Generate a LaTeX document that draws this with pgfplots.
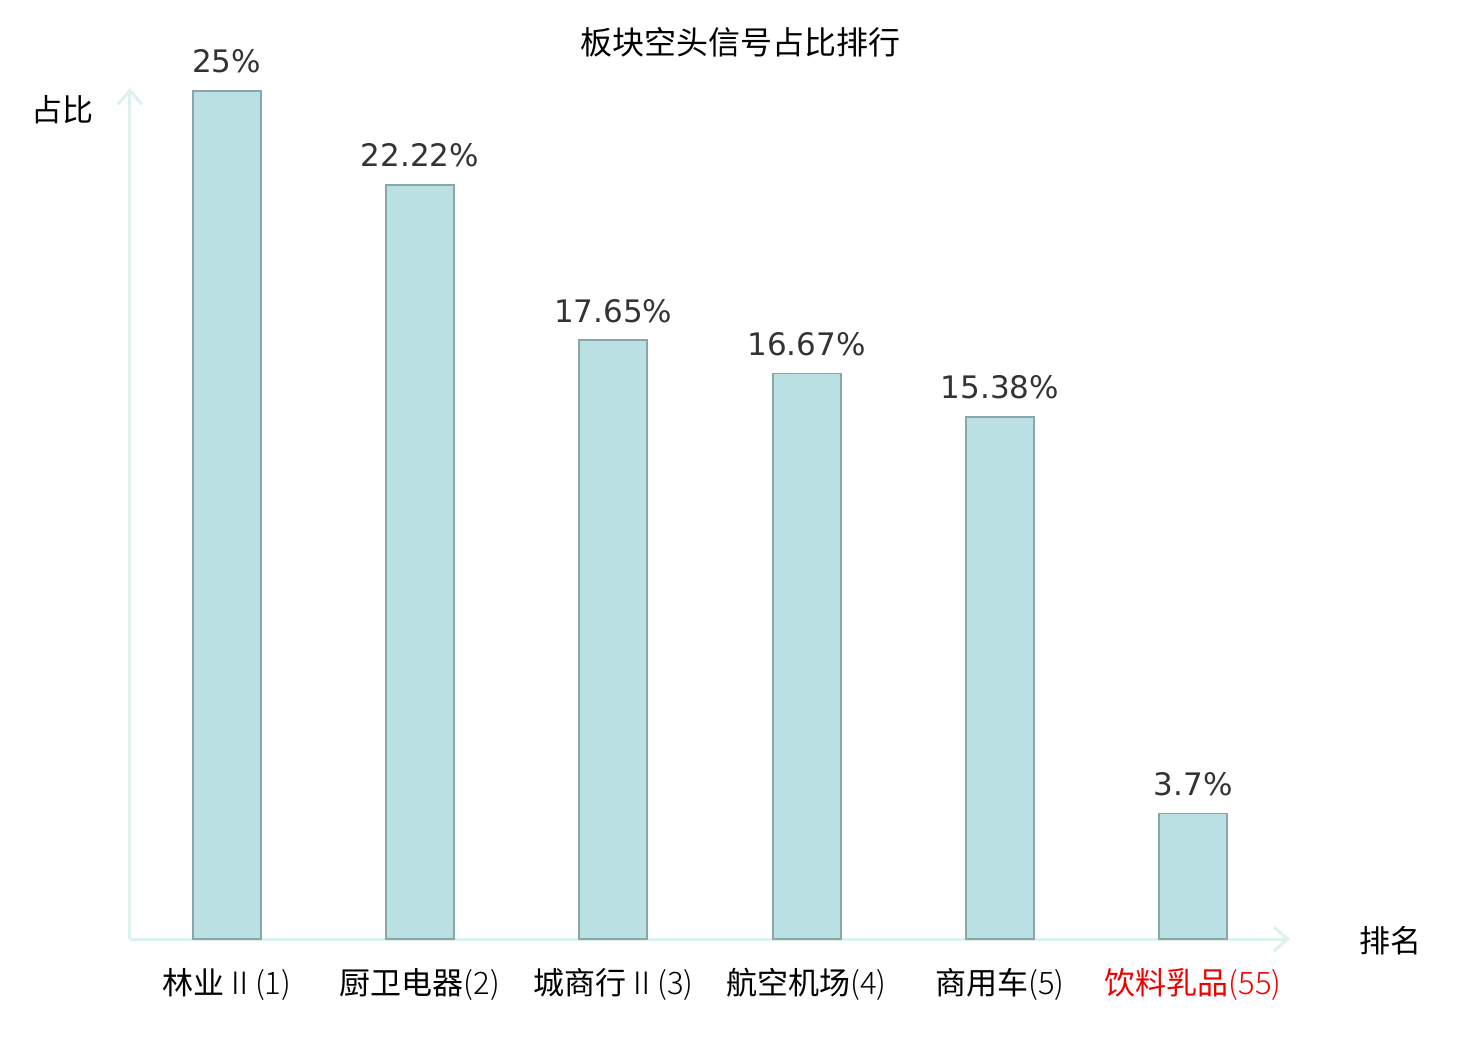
\documentclass[border=0pt]{standalone}
\usepackage{fontspec}
\setmainfont{DejaVu Sans}
\newfontfamily\cjk{Noto Sans CJK SC}
\newfontfamily\cjklight{Noto Sans CJK SC Light}
\usepackage{pgfplots}
\pgfplotsset{compat=1.18}
\usetikzlibrary{arrows.meta}
\definecolor{barfill}{HTML}{BBE0E3}
\definecolor{baredge}{HTML}{8AA6A6}
\definecolor{axcol}{HTML}{DDF1EF}
\definecolor{valtxt}{HTML}{333333}
\definecolor{lblred}{HTML}{F00000}
\begin{document}
\begin{tikzpicture}
\path[use as bounding box] (0,0) rectangle (740pt,520pt);
\begin{axis}[
  at={(65pt,50.5pt)}, anchor=south west,
  width=580pt, height=425.5pt, scale only axis,
  xmin=-0.5, xmax=5.5, ymin=0, ymax=25.09,
  axis lines=left,
  axis line style={draw=axcol, line width=1.5pt},
  x axis line style={-{Straight Barb[length=7pt,width=12pt,line width=1.5pt]}},
  y axis line style={-{Straight Barb[length=7pt,width=12pt,line width=1.5pt]}},
  ytick=\empty,
  xtick={0,1,2,3,4,5},
  major tick length=0pt,
  xticklabels={{林业{\cjklight Ⅱ(1)}},{厨卫电器{\cjklight (2)}},{城商行{\cjklight Ⅱ(3)}},{航空机场{\cjklight (4)}},{商用车{\cjklight (5)}},{\color{lblred}饮料乳品{\cjklight (55)}}},
  xticklabel style={font=\fontsize{15.5}{18}\selectfont\cjk, text=black, anchor=north, yshift=-11pt},
  ybar, bar width=34pt,
  point meta=explicit symbolic,
  nodes near coords,
  nodes near coords style={font=\fontsize{15.5}{18}\selectfont, text=valtxt, anchor=south, inner sep=0pt, yshift=8.5pt},
  clip=false,
]
\addplot[fill=barfill, draw=baredge, line width=0.9pt] coordinates {
  (0,25) [25\%]
  (1,22.22) [22.22\%]
  (2,17.65) [17.65\%]
  (3,16.67) [16.67\%]
  (4,15.38) [15.38\%]
  (5,3.7) [3.7\%]
};
\node[font=\fontsize{16}{19}\selectfont\cjk] at (rel axis cs:0.526,1.054) {板块空头信号占比排行};
\node[font=\fontsize{15.5}{18}\selectfont\cjk] at (rel axis cs:-0.058,0.974) {占比};
\node[font=\fontsize{15.5}{18}\selectfont\cjk] at (rel axis cs:1.087,-0.002) {排名};
\end{axis}
\end{tikzpicture}
\end{document}
